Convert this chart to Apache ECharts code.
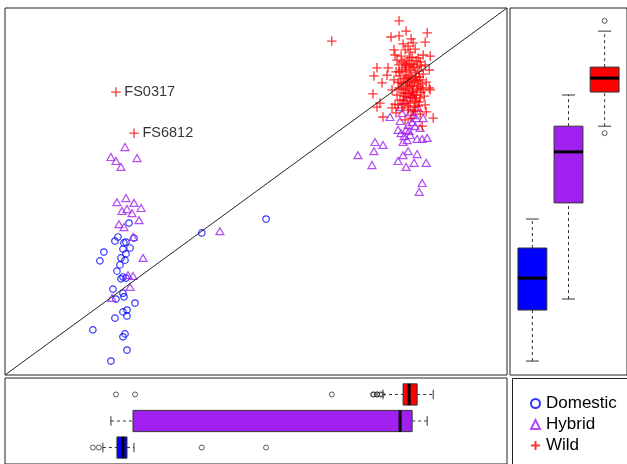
<!DOCTYPE html>
<html>
<head>
<meta charset="utf-8">
<script src="https://cdn.jsdelivr.net/npm/echarts@6/dist/echarts.min.js"></script>
<style>
html,body{margin:0;padding:0;background:#fff;}
#c{width:627px;height:464px;}
</style>
</head>
<body>
<div id="c"></div>
<script>
// ---------- DATA (values on a 0..1 scale for both axes) ----------
const groups = ['Domestic', 'Hybrid', 'Wild'];

const domestic = [
  [0.247,0.414],[0.225,0.376],[0.219,0.365],[0.241,0.362],[0.257,0.373],[0.237,0.360],
  [0.249,0.346],[0.235,0.343],[0.197,0.335],[0.241,0.330],[0.231,0.319],[0.189,0.311],
  [0.239,0.313],[0.229,0.300],[0.223,0.283],[0.235,0.267],[0.231,0.262],[0.241,0.264],
  [0.215,0.234],[0.235,0.223],[0.237,0.213],[0.221,0.207],[0.259,0.196],[0.243,0.177],
  [0.235,0.172],[0.243,0.161],[0.219,0.155],[0.175,0.123],[0.239,0.112],[0.235,0.104],
  [0.243,0.068],[0.211,0.038],[0.392,0.387],[0.520,0.425]
];

const hybrid = [
  [0.239,0.621],[0.211,0.594],[0.263,0.591],[0.221,0.583],[0.231,0.567],[0.223,0.471],
  [0.241,0.482],[0.257,0.469],[0.271,0.455],[0.233,0.447],[0.243,0.452],[0.253,0.441],
  [0.267,0.422],[0.227,0.411],[0.237,0.403],[0.255,0.376],[0.275,0.319],[0.245,0.272],
  [0.255,0.270],[0.249,0.240],[0.213,0.210],[0.428,0.392],
  [0.767,0.703],[0.787,0.730],[0.811,0.763],[0.787,0.692],[0.803,0.681],[0.817,0.678],
  [0.833,0.700],[0.813,0.708],[0.783,0.668],[0.799,0.668],[0.807,0.654],[0.793,0.635],
  [0.821,0.643],[0.831,0.643],[0.841,0.646],[0.737,0.635],[0.753,0.627],[0.735,0.610],
  [0.703,0.599],[0.793,0.599],[0.803,0.610],[0.821,0.602],[0.783,0.583],[0.815,0.578],
  [0.839,0.578],[0.731,0.572],[0.799,0.567],[0.831,0.523],[0.825,0.499],[0.789,0.659],
  [0.795,0.651],[0.805,0.665],[0.819,0.700],[0.797,0.749],[0.823,0.728],[0.807,0.717],
  [0.791,0.714],[0.827,0.673],[0.811,0.689],[0.801,0.640]
];

// first two wild points carry the labels below
const wildLabels = ['FS0317', 'FS6812'];
const wild = [
  [0.221,0.771],[0.257,0.659],
  [0.785,0.965],[0.769,0.921],[0.785,0.924],[0.799,0.937],[0.841,0.932],[0.837,0.907],
  [0.809,0.916],[0.651,0.910],[0.775,0.886],[0.777,0.872],[0.847,0.869],[0.833,0.872],
  [0.793,0.902],[0.803,0.896],[0.813,0.905],[0.797,0.886],[0.807,0.880],[0.817,0.888],
  [0.789,0.869],[0.823,0.864],[0.801,0.858],[0.811,0.866],[0.795,0.850],[0.827,0.853],
  [0.815,0.847],[0.805,0.842],[0.785,0.845],[0.821,0.837],[0.741,0.837],[0.735,0.815],
  [0.763,0.837],[0.761,0.817],[0.751,0.796],[0.733,0.766],[0.747,0.741],[0.741,0.730],
  [0.753,0.703],[0.771,0.728],[0.853,0.700],[0.831,0.678],[0.845,0.782],[0.845,0.831],
  [0.839,0.798],[0.847,0.777],[0.791,0.831],[0.799,0.826],[0.809,0.831],[0.817,0.823],
  [0.825,0.828],[0.833,0.820],[0.787,0.815],[0.795,0.809],[0.803,0.812],[0.811,0.807],
  [0.819,0.812],[0.827,0.804],[0.783,0.798],[0.793,0.793],[0.801,0.798],[0.807,0.790],
  [0.815,0.796],[0.823,0.787],[0.831,0.793],[0.789,0.779],[0.797,0.777],[0.805,0.782],
  [0.813,0.774],[0.821,0.779],[0.829,0.771],[0.781,0.763],[0.795,0.760],[0.803,0.766],
  [0.811,0.757],[0.819,0.763],[0.827,0.755],[0.787,0.749],[0.799,0.747],[0.807,0.741],
  [0.817,0.744],[0.823,0.733],[0.791,0.728],[0.803,0.722],[0.813,0.717],[0.779,0.714],
  [0.827,0.711],[0.809,0.700],[0.797,0.695],[0.777,0.738],[0.837,0.736],[0.835,0.760],
  [0.771,0.777],[0.775,0.804],[0.779,0.826],[0.807,0.817],[0.801,0.787],[0.811,0.771],
  [0.793,0.768],[0.817,0.804],[0.805,0.801],[0.799,0.845],[0.819,0.749],[0.785,0.782],
  [0.825,0.812],[0.809,0.847],[0.795,0.738],[0.829,0.842],[0.815,0.730],[0.781,0.858],
  [0.837,0.845],[0.839,0.717],
  [0.791,0.853],[0.805,0.864],[0.819,0.856],[0.797,0.837],[0.813,0.839],[0.785,0.826],
  [0.821,0.801],[0.799,0.807],[0.789,0.796],[0.811,0.787],[0.827,0.782],[0.799,0.768],
  [0.807,0.757],[0.793,0.749],[0.815,0.763],[0.825,0.744],[0.803,0.733],[0.833,0.777],
  [0.783,0.736],[0.817,0.722]
];

// Marginal boxplots: [lower whisker, Q1, median, Q3, upper whisker] per group
const boxRight = [            // distribution of the vertical value
  [0.038, 0.177, 0.264, 0.346, 0.425],
  [0.207, 0.469, 0.608, 0.678, 0.763],
  [0.678, 0.771, 0.809, 0.839, 0.937]
];
const outRight = [[3, 0.965], [3, 0.659]];      // [group, value]

const boxBottom = [           // distribution of the horizontal value
  [0.195, 0.223, 0.235, 0.243, 0.257],
  [0.211, 0.255, 0.787, 0.811, 0.841],
  [0.753, 0.793, 0.805, 0.821, 0.853]
];
const outBottom = [
  [1,0.175],[1,0.187],[1,0.392],[1,0.520],
  [3,0.221],[3,0.259],[3,0.651],[3,0.733],[3,0.735],[3,0.741],[3,0.741],[3,0.747],[3,0.751]
];

// ---------- STYLE ----------
const colDom = '#0000FF', colHyb = '#A020F0', colWild = '#FF0000';
const boxFills = [colDom, colHyb, colWild];
const FRAME = '#222';
const FONT = 'Liberation Sans, Arial, Helvetica, sans-serif';
const BOXW = 0.8, STAPLE = 0.45;
const hid = { show: false, splitLine: { show: false } };

function boxItem(horizontal) {
  return function (params, api) {
    const g = api.value(0);
    const v = [api.value(1), api.value(2), api.value(3), api.value(4), api.value(5)];
    const pt = (val) => horizontal ? api.coord([val, g]) : api.coord([g, val]);
    const p = v.map(pt);
    const sz = horizontal ? api.size([0, BOXW])[1] : api.size([BOXW, 0])[0];
    const half = sz / 2, cap = half * STAPLE;
    const dash = { stroke: '#333', lineWidth: 1, lineDash: [3, 3] };
    const solid = { stroke: '#333', lineWidth: 1 };
    const fill = boxFills[params.dataIndex];
    let ch;
    if (horizontal) {
      const y = p[0][1];
      ch = [
        { type: 'line', shape: { x1: p[0][0], y1: y, x2: p[1][0], y2: y }, style: dash },
        { type: 'line', shape: { x1: p[3][0], y1: y, x2: p[4][0], y2: y }, style: dash },
        { type: 'line', shape: { x1: p[0][0], y1: y - cap, x2: p[0][0], y2: y + cap }, style: solid },
        { type: 'line', shape: { x1: p[4][0], y1: y - cap, x2: p[4][0], y2: y + cap }, style: solid },
        { type: 'rect', shape: { x: p[1][0], y: y - half, width: p[3][0] - p[1][0], height: sz },
          style: { fill: fill, stroke: '#333', lineWidth: 1 } },
        { type: 'line', shape: { x1: p[2][0], y1: y - half, x2: p[2][0], y2: y + half },
          style: { stroke: '#000', lineWidth: 3 } }
      ];
    } else {
      const x = p[0][0];
      ch = [
        { type: 'line', shape: { x1: x, y1: p[0][1], x2: x, y2: p[1][1] }, style: dash },
        { type: 'line', shape: { x1: x, y1: p[3][1], x2: x, y2: p[4][1] }, style: dash },
        { type: 'line', shape: { x1: x - cap, y1: p[0][1], x2: x + cap, y2: p[0][1] }, style: solid },
        { type: 'line', shape: { x1: x - cap, y1: p[4][1], x2: x + cap, y2: p[4][1] }, style: solid },
        { type: 'rect', shape: { x: x - half, y: p[3][1], width: sz, height: p[1][1] - p[3][1] },
          style: { fill: fill, stroke: '#333', lineWidth: 1 } },
        { type: 'line', shape: { x1: x - half, y1: p[2][1], x2: x + half, y2: p[2][1] },
          style: { stroke: '#000', lineWidth: 3 } }
      ];
    }
    return { type: 'group', children: ch };
  };
}

const wildData = wild.map((p, i) => i < wildLabels.length ? {
  value: p,
  label: { show: true, formatter: wildLabels[i], position: 'right', distance: 3,
           fontSize: 14.5, fontFamily: FONT, color: '#000' }
} : p);

const outlierStyle = { color: 'rgba(0,0,0,0)', borderColor: '#333', borderWidth: 1 };

const option = {
  animation: false,
  backgroundColor: '#fff',
  grid: [
    { show: true, left: 5, top: 8, width: 502, height: 367, borderColor: FRAME, borderWidth: 1, backgroundColor: '#fff' },
    { show: true, left: 510, top: 8, width: 124, height: 367, borderColor: FRAME, borderWidth: 1, backgroundColor: '#fff' },
    { show: true, left: 5, top: 378, width: 502, height: 91, borderColor: FRAME, borderWidth: 1, backgroundColor: '#fff' }
  ],
  xAxis: [
    Object.assign({ type: 'value', gridIndex: 0, min: 0, max: 1 }, hid),
    Object.assign({ type: 'value', gridIndex: 1, min: 0.38, max: 3.62 }, hid),
    Object.assign({ type: 'value', gridIndex: 2, min: 0, max: 1 }, hid)
  ],
  yAxis: [
    Object.assign({ type: 'value', gridIndex: 0, min: 0, max: 1 }, hid),
    Object.assign({ type: 'value', gridIndex: 1, min: 0, max: 1 }, hid),
    Object.assign({ type: 'value', gridIndex: 2, min: 0.38, max: 3.62 }, hid)
  ],
  graphic: [
    { type: 'rect', z: 0, shape: { x: 512.5, y: 378.5, width: 130, height: 100 },
      style: { fill: '#fff', stroke: FRAME, lineWidth: 1 } }
  ],
  legend: {
    data: groups, orient: 'vertical', left: 525, top: 390, itemWidth: 9, itemHeight: 9, itemGap: 4,
    textStyle: { fontSize: 17, fontFamily: FONT, color: '#000', padding: [0, 0, 0, 1] }, z: 10
  },
  series: [
    { name: 'Domestic', type: 'scatter', xAxisIndex: 0, yAxisIndex: 0, data: domestic,
      symbol: 'circle', symbolSize: 6.5,
      itemStyle: { color: 'rgba(0,0,0,0)', borderColor: colDom, borderWidth: 1.2 } },
    { name: 'Hybrid', type: 'scatter', xAxisIndex: 0, yAxisIndex: 0, data: hybrid,
      symbol: 'triangle', symbolSize: [8, 7],
      itemStyle: { color: 'rgba(0,0,0,0)', borderColor: colHyb, borderWidth: 1.2 } },
    { name: 'Wild', type: 'scatter', xAxisIndex: 0, yAxisIndex: 0, data: wildData,
      symbol: 'path://M0,5L10,5M5,0L5,10', symbolSize: 9.5,
      itemStyle: { color: 'rgba(0,0,0,0)', borderColor: colWild, borderWidth: 1.3 } },
    { type: 'line', xAxisIndex: 0, yAxisIndex: 0, data: [[0, 0], [1, 1]], symbol: 'none',
      lineStyle: { color: '#222', width: 1 }, silent: true, z: 5 },
    { type: 'custom', xAxisIndex: 1, yAxisIndex: 1,
      data: boxRight.map((s, i) => [i + 1].concat(s)), renderItem: boxItem(false) },
    { type: 'scatter', xAxisIndex: 1, yAxisIndex: 1, data: outRight, symbol: 'circle', symbolSize: 5,
      itemStyle: outlierStyle },
    { type: 'custom', xAxisIndex: 2, yAxisIndex: 2,
      data: boxBottom.map((s, i) => [i + 1].concat(s)), renderItem: boxItem(true) },
    { type: 'scatter', xAxisIndex: 2, yAxisIndex: 2, data: outBottom.map(o => [o[1], o[0]]),
      symbol: 'circle', symbolSize: 5, itemStyle: outlierStyle }
  ]
};

const chart = echarts.init(document.getElementById('c'));
chart.setOption(option);
</script>
</body>
</html>
